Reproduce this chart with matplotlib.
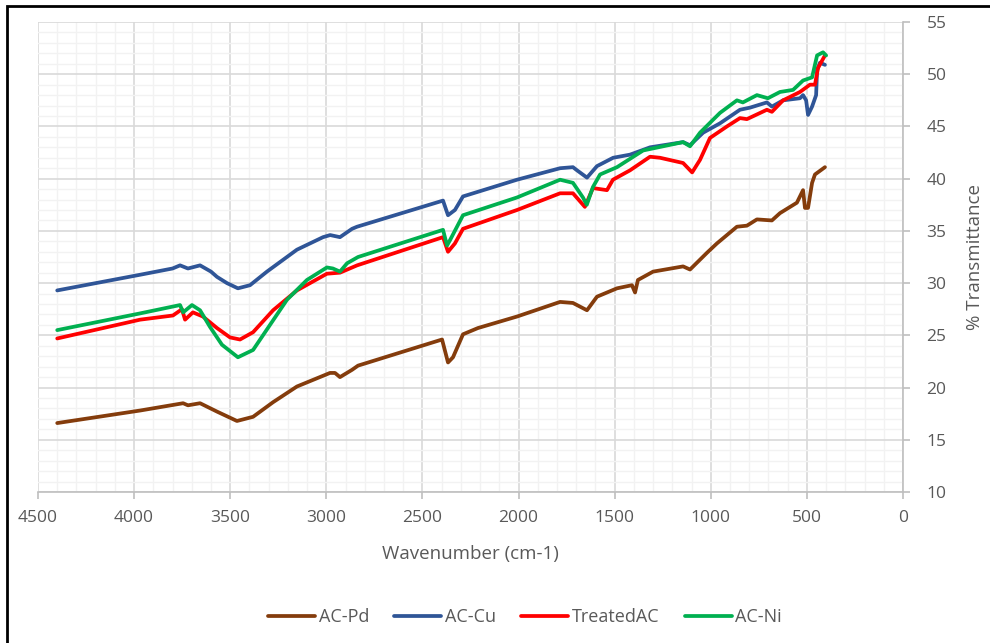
import matplotlib.pyplot as plt
from matplotlib.patches import Rectangle
from matplotlib.ticker import MultipleLocator

plt.rcParams['font.family'] = ['Open Sans', 'DejaVu Sans']

# wavenumber (cm-1) / % transmittance
cu_x = [4400, 3969, 3800, 3761, 3720, 3657, 3600, 3569, 3517, 3460, 3397, 3309, 3205,
        3153, 3017, 2980, 2929, 2866, 2840, 2393, 2367, 2331, 2289, 2008, 1784, 1717,
        1696, 1644, 1592, 1508, 1420, 1316, 1144, 1108, 1040, 952, 848, 796, 708, 682,
        624, 536, 520, 504, 494, 473, 452, 447, 432, 406]
cu_y = [29.3, 30.8, 31.4, 31.7, 31.4, 31.7, 31.1, 30.6, 30.0, 29.5, 29.8, 31.1, 32.5,
        33.2, 34.4, 34.6, 34.4, 35.2, 35.4, 37.9, 36.5, 37.0, 38.3, 39.9, 41.0, 41.1,
        40.8, 40.1, 41.2, 42.0, 42.3, 43.0, 43.5, 43.2, 44.4, 45.3, 46.6, 46.8, 47.3,
        46.9, 47.5, 47.7, 48.0, 47.5, 46.1, 46.9, 48.0, 50.4, 51.1, 50.9]

tac_x = [4400, 3969, 3798, 3751, 3735, 3694, 3642, 3569, 3501, 3449, 3381, 3277, 3153,
         2997, 2929, 2840, 2393, 2367, 2331, 2289, 2008, 1784, 1717, 1655, 1613, 1540,
         1509, 1420, 1316, 1264, 1144, 1097, 1056, 1004, 916, 848, 812, 708, 682, 624,
         536, 484, 458, 442, 406]
tac_y = [24.7, 26.5, 26.9, 27.5, 26.5, 27.2, 26.8, 25.7, 24.8, 24.6, 25.3, 27.4, 29.3,
         30.9, 31.0, 31.7, 34.4, 33.0, 33.8, 35.2, 37.0, 38.6, 38.6, 37.3, 39.1, 38.9,
         39.9, 40.8, 42.1, 42.0, 41.5, 40.6, 41.8, 43.9, 45.0, 45.8, 45.7, 46.6, 46.4,
         47.5, 48.3, 49.0, 49.0, 50.6, 51.8]

ni_x = [4400, 3969, 3761, 3745, 3699, 3657, 3605, 3543, 3460, 3381, 3293, 3205, 3101,
        2997, 2966, 2929, 2892, 2835, 2393, 2372, 2357, 2289, 2008, 1784, 1717, 1665,
        1645, 1613, 1576, 1488, 1352, 1144, 1108, 1056, 952, 864, 833, 760, 703, 640,
        572, 520, 473, 447, 416, 400]
ni_y = [25.5, 27.1, 27.9, 27.2, 27.9, 27.4, 25.8, 24.1, 22.9, 23.6, 26.0, 28.4, 30.3,
        31.5, 31.4, 31.1, 31.9, 32.5, 35.1, 33.6, 34.1, 36.5, 38.2, 39.9, 39.6, 38.2,
        37.5, 39.2, 40.4, 41.1, 42.7, 43.5, 43.1, 44.4, 46.3, 47.5, 47.3, 48.0, 47.7,
        48.3, 48.5, 49.4, 49.7, 51.8, 52.1, 51.8]

pd_x = [4400, 3969, 3745, 3720, 3657, 3569, 3465, 3381, 3277, 3153, 2981, 2955, 2929,
        2866, 2835, 2398, 2367, 2341, 2289, 2211, 2008, 1784, 1717, 1644, 1592, 1488,
        1410, 1394, 1379, 1300, 1144, 1108, 1020, 968, 864, 812, 760, 682, 640, 552,
        520, 510, 494, 473, 458, 406]
pd_y = [16.6, 17.8, 18.5, 18.3, 18.5, 17.7, 16.8, 17.2, 18.6, 20.1, 21.4, 21.4, 21.0,
        21.7, 22.1, 24.6, 22.4, 22.9, 25.1, 25.7, 26.8, 28.2, 28.1, 27.4, 28.7, 29.5,
        29.8, 29.1, 30.3, 31.1, 31.6, 31.3, 32.9, 33.8, 35.4, 35.5, 36.1, 36.0, 36.7,
        37.7, 38.9, 37.2, 37.2, 39.6, 40.4, 41.1]

fig = plt.figure(figsize=(9.9, 6.43), dpi=100)
ax = fig.add_axes([38 / 990, 1 - 492 / 643, 865 / 990, 470 / 643])

lw = 2.7
style = dict(lw=lw, solid_joinstyle='round', solid_capstyle='round')
ax.plot(pd_x, pd_y, color='#843C0C', label='AC-Pd', **style)
ax.plot(cu_x, cu_y, color='#2F5597', label='AC-Cu', **style)
ax.plot(tac_x, tac_y, color='#FF0000', label='TreatedAC', **style)
ax.plot(ni_x, ni_y, color='#00B050', label='AC-Ni', **style)

ax.set_xlim(4500, 0)
ax.set_ylim(10, 55)
ax.xaxis.set_major_locator(MultipleLocator(500))
ax.xaxis.set_minor_locator(MultipleLocator(100))
ax.yaxis.set_major_locator(MultipleLocator(5))
ax.yaxis.set_minor_locator(MultipleLocator(1))
ax.grid(which='major', color='#D9D9D9', lw=1.2)
ax.grid(which='minor', color='#F2F2F2', lw=1.0)
ax.set_axisbelow(True)

ax.yaxis.tick_right()
ax.yaxis.set_label_position('right')
for s in ['left', 'top']:
    ax.spines[s].set_visible(False)
for s in ['right', 'bottom']:
    ax.spines[s].set_color('#BFBFBF')
    ax.spines[s].set_linewidth(1.2)
ax.tick_params(which='major', color='#BFBFBF', length=5, width=1.2,
               labelcolor='#595959', labelsize=12.5)
ax.tick_params(axis='x', pad=8)
ax.tick_params(axis='y', pad=12)
ax.tick_params(which='minor', length=0)

ax.set_xlabel('Wavenumber (cm-1)', fontsize=13.5, color='#595959', labelpad=14)
ax.set_ylabel('% Transmittance', fontsize=13.5, color='#595959', labelpad=14)

fig.legend(loc='center', bbox_to_anchor=(525 / 990, 1 - 617 / 643), ncol=4,
           frameon=False, fontsize=13, handlelength=2.6, handletextpad=0.2,
           columnspacing=1.4, labelcolor='#595959')

# outer frame (only left and top edges are visible in the crop)
fig.patches.append(Rectangle((7 / 990, -0.05), 1.1, 1 - 6 / 643 + 0.05,
                             transform=fig.transFigure, fill=False,
                             edgecolor='black', lw=2))

fig.savefig('out.png', dpi=100)
